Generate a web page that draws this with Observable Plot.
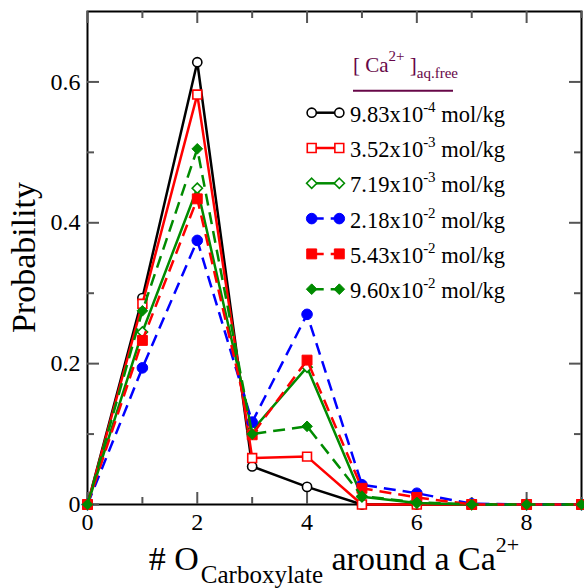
<!DOCTYPE html>
<html><head><meta charset="utf-8">
<script src="https://cdn.jsdelivr.net/npm/d3@7"></script>
<script src="https://cdn.jsdelivr.net/npm/@observablehq/plot@0.6"></script>
<style>
body{margin:0;background:#fff;}
#wrap{position:relative;width:584px;height:588px;overflow:hidden;background:#fff;}
#wrap svg{position:absolute;left:0;top:0;}
#wrap svg, #wrap svg text{font-family:"Liberation Serif","Times New Roman",Times,"DejaVu Serif",serif !important;}
</style></head><body><div id="wrap"></div>
<script>
// ---- data ----
const nOxygen = [0, 1, 2, 3, 4, 5, 6, 7, 8, 9];
const concMantissa = ["9.83", "3.52", "7.19", "2.18", "5.43", "9.60"];
const concExponent = ["-4", "-3", "-3", "-2", "-2", "-2"];
const prob_983e4 = [0, 0.293, 0.628, 0.054, 0.025, 0, 0, 0, 0, 0];
const prob_352e3 = [0, 0.285, 0.582, 0.066, 0.068, 0, 0, 0, 0, 0];
const prob_719e3 = [0, 0.245, 0.449, 0.105, 0.195, 0.011, 0.002, 0, 0, 0];
const prob_218e2 = [0, 0.194, 0.375, 0.117, 0.270, 0.028, 0.016, 0.001, 0, 0];
const prob_543e2 = [0, 0.233, 0.434, 0.099, 0.205, 0.023, 0.010, 0, 0, 0];
const prob_960e2 = [0, 0.275, 0.505, 0.100, 0.111, 0.012, 0.003, 0, 0, 0];
const xTicks = [0, 2, 4, 6, 8];
const xMinorTicks = [1, 3, 5, 7, 9];
const yTicks = [0, 0.2, 0.4, 0.6];
const yMinorTicks = [0.1, 0.3, 0.5];
const yTickLabels = ["0", "0.2", "0.4", "0.6"];

const seriesValues = [prob_983e4, prob_352e3, prob_719e3, prob_218e2, prob_543e2, prob_960e2];

// ---- styles ----
const FONT = '"Liberation Serif", "Times New Roman", Times, "DejaVu Serif", serif';
const GREEN = "rgb(0,139,0)";
const styles = [
  {color: "#000", symbol: "circle", open: true, r: 4.6, dash: null},
  {color: "#f00", symbol: "square", open: true, r: 5.0, dash: null},
  {color: GREEN, symbol: "diamond2", open: true, r: 4.6, dash: null},
  {color: "#00f", symbol: "circle", open: false, r: 5.3, dash: "12,7"},
  {color: "#f00", symbol: "square", open: false, r: 5.6, dash: "12,7"},
  {color: GREEN, symbol: "diamond2", open: false, r: 4.8, dash: "12,7"}
];

const W = 584, H = 588, mL = 87, mR = 3, mT = 11, mB = 84;
const fw = W - mL - mR, fh = H - mT - mB;
const tickColor = "#555";
const majorLen = 12, minorLen = 7;

const marks = [
  Plot.frame({stroke: "black", strokeWidth: 2}),
  Plot.tickY(yTicks, {y: d => d, insetRight: fw - majorLen, stroke: tickColor, strokeWidth: 2}),
  Plot.tickY(yTicks, {y: d => d, insetLeft: fw - majorLen, stroke: tickColor, strokeWidth: 2}),
  Plot.tickY(yMinorTicks, {y: d => d, insetRight: fw - minorLen, stroke: tickColor, strokeWidth: 2}),
  Plot.tickY(yMinorTicks, {y: d => d, insetLeft: fw - minorLen, stroke: tickColor, strokeWidth: 2}),
  Plot.tickX(xTicks, {x: d => d, insetTop: fh - majorLen, stroke: tickColor, strokeWidth: 2}),
  Plot.tickX(xTicks, {x: d => d, insetBottom: fh - majorLen, stroke: tickColor, strokeWidth: 2}),
  Plot.tickX(xMinorTicks, {x: d => d, insetTop: fh - minorLen, stroke: tickColor, strokeWidth: 2}),
  Plot.tickX(xMinorTicks, {x: d => d, insetBottom: fh - minorLen, stroke: tickColor, strokeWidth: 2}),
  Plot.axisX({ticks: xTicks, tickSize: 0, tickPadding: 8, tickFormat: d => String(d), label: null, fontSize: 24}),
  Plot.axisY({ticks: yTicks, tickSize: 0, tickPadding: 7, tickFormat: d => yTickLabels[yTicks.indexOf(d)], label: null, fontSize: 24})
];

seriesValues.forEach((vals, i) => {
  const s = styles[i];
  const data = nOxygen.map((x, j) => ({x, y: vals[j]}));
  marks.push(Plot.line(data, {
    x: "x", y: "y", stroke: s.color, strokeWidth: 2.5,
    strokeDasharray: s.dash, strokeLinecap: "butt", strokeLinejoin: "miter"
  }));
  marks.push(Plot.dot(data, {
    x: "x", y: "y", symbol: s.symbol, r: s.r,
    fill: s.open ? "white" : s.color,
    stroke: s.color, strokeWidth: s.open ? 1.6 : 1
  }));
});

const chart = Plot.plot({
  width: W, height: H,
  marginLeft: mL, marginRight: mR, marginTop: mT, marginBottom: mB,
  x: {domain: [0, 9]},
  y: {domain: [0, 0.7]},
  style: {fontFamily: FONT, fontSize: "24px", background: "white", color: "black", overflow: "visible"},
  marks
});
document.getElementById("wrap").appendChild(chart);

// ---- overlay: axis titles and legend (real text) ----
const svg = d3.create("svg").attr("width", W).attr("height", H)
  .attr("font-family", FONT)
  .style("pointer-events", "none").style("overflow", "visible");

svg.append("text")
  .attr("transform", `translate(35,${mT + fh / 2}) rotate(-90)`)
  .attr("text-anchor", "middle").attr("font-size", 34).text("Probability");

const xt = svg.append("text").attr("x", mL + fw / 2).attr("y", 570)
  .attr("text-anchor", "middle").attr("font-size", 34);
xt.append("tspan").text("# O");
xt.append("tspan").attr("font-size", 25).attr("dy", 13).attr("dx", 2).text("Carboxylate");
xt.append("tspan").attr("dy", -13).text("\u00a0around a Ca");
xt.append("tspan").attr("font-size", 22).attr("dy", -18).text("2+");

const PURPLE = "#670748";
const lt = svg.append("text").attr("x", 353).attr("y", 71.7).attr("fill", PURPLE).attr("font-size", 21);
lt.append("tspan").text("[ Ca");
lt.append("tspan").attr("font-size", 15).attr("dy", -11).text("2+");
lt.append("tspan").attr("dy", 11).text(" ]");
lt.append("tspan").attr("font-size", 15).attr("dy", 6.6).text("aq.free");
svg.append("line").attr("x1", 353).attr("x2", 453).attr("y1", 90.7).attr("y2", 90.7)
  .attr("stroke", PURPLE).attr("stroke-width", 2);

const symbolMap = {circle: d3.symbolCircle, square: d3.symbolSquare, diamond2: d3.symbolDiamond2};
const rowBase = 121.7, rowStep = 35.3, symX1 = 311.7, symX2 = 339.3;
concMantissa.forEach((m, i) => {
  const s = styles[i];
  const base = rowBase + i * rowStep;
  const cy = base - 9;
  svg.append("line").attr("x1", symX1).attr("x2", symX2).attr("y1", cy).attr("y2", cy)
    .attr("stroke", s.color).attr("stroke-width", 2.5)
    .attr("stroke-dasharray", s.dash).attr("stroke-linecap", "butt");
  [symX1, symX2].forEach(sx => {
    svg.append("path")
      .attr("d", d3.symbol(symbolMap[s.symbol], Math.PI * s.r * s.r)())
      .attr("transform", `translate(${sx},${cy})`)
      .attr("fill", s.open ? "white" : s.color)
      .attr("stroke", s.color).attr("stroke-width", s.open ? 1.6 : 1);
  });
  const t = svg.append("text").attr("x", 350).attr("y", base).attr("font-size", 22.5).attr("fill", "black");
  t.append("tspan").text(m + "x10");
  t.append("tspan").attr("font-size", 15).attr("dy", -10).text(concExponent[i]);
  t.append("tspan").attr("dy", 10).text(" mol/kg");
});

document.getElementById("wrap").appendChild(svg.node());
</script>
</body></html>
